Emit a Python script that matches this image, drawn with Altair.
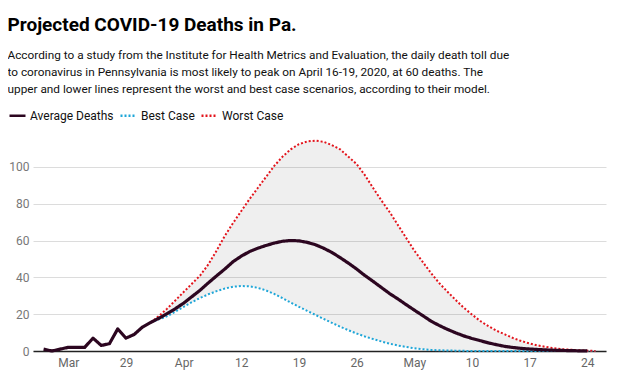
import altair as alt
import pandas as pd

# ---- data ----
avg_start = "2020-03-19"
avg_values = [1, 0, 1, 2, 2, 2, 7, 3, 4, 12, 7, 9, 13,
              15.5, 17.8, 20.3, 23, 26, 29.5, 33, 37, 40.8, 44.5,
              48.5, 51.5, 54, 55.8, 57.3, 58.6, 59.6, 60, 59.8, 59,
              57.7, 55.8, 53.5, 50.7, 47.7, 44.5, 41, 37.8, 34.5, 31.2,
              28.3, 25.2, 22.2, 19.3, 16.3, 13.9, 11.8, 9.9, 8.2, 6.8,
              5.6, 4.4, 3.4, 2.5, 1.9, 1.4, 1.1, 0.8, 0.6, 0.4,
              0.3, 0.2, 0.1, 0.1]

proj_start = "2020-04-01"
best_values = [15.5, 17.2, 18.9, 21.4, 24, 26.5, 28.8, 30.8, 32.5, 33.9,
               34.9, 35.3, 35.1, 34.3, 32.9, 31, 28.7, 26.3, 24, 21.8,
               19.6, 17.4, 15.3, 13.2, 11.3, 9.5, 7.9, 6.5, 5.2, 4,
               3, 2.2, 1.5, 1, 0.6, 0.4, 0.3, 0.2, 0.1,
               0, 0, 0, 0, 0, 0, 0, 0, 0, 0, 0, 0, 0, 0, 0, 0]
worst_values = [15.5, 19, 23, 27.5, 32, 36.5, 41, 47, 54.5, 62.5,
                69.5, 76, 82.5, 88.5, 94.5, 100.5, 105.5, 109.5, 112.3, 113.8,
                114.2, 113.6, 111.8, 109.5, 105.5, 101.5, 95.5, 88.5, 81.8, 75.5,
                68.5, 61.5, 54.5, 48.5, 42.5, 37, 32.3, 27.8, 23.5, 19.8,
                16.3, 13.5, 11, 9, 7, 5.4, 4.1, 3, 2.2, 1.5,
                1, 0.7, 0.4, 0.2, 0]

series_names = ["Average Deaths", "Best Case", "Worst Case"]
series_colors = ["#2c0620", "#1ea6d8", "#e3141c"]
series_dashes = [[1, 0], [2, 2], [2, 2]]

x_tick_dates = ["2020-03-22", "2020-03-29", "2020-04-05", "2020-04-12", "2020-04-19",
                "2020-04-26", "2020-05-03", "2020-05-10", "2020-05-17", "2020-05-24"]
x_domain = ["2020-03-17T17:10:00", "2020-05-26T06:30:00"]
y_ticks = [0, 20, 40, 60, 80, 100]

title_text = "Projected COVID-19 Deaths in Pa."
subtitle_lines = [
    "According to a study from the Institute for Health Metrics and Evaluation, the daily death toll due",
    "to coronavirus in Pennsylvania is most likely to peak on April 16-19, 2020, at 60 deaths. The",
    "upper and lower lines represent the worst and best case scenarios, according to their model.",
]


def ms(s):
    return int(pd.Timestamp(s, tz="UTC").timestamp() * 1000)


avg_dates = [d.strftime("%Y-%m-%d") for d in pd.date_range(avg_start, periods=len(avg_values), freq="D")]
proj_dates = [d.strftime("%Y-%m-%d") for d in pd.date_range(proj_start, periods=len(best_values), freq="D")]

df_avg = pd.DataFrame({"date": avg_dates, "value": avg_values, "series": series_names[0]})
df_proj = pd.concat([
    pd.DataFrame({"date": proj_dates, "value": best_values, "series": series_names[1]}),
    pd.DataFrame({"date": proj_dates, "value": worst_values, "series": series_names[2]}),
])
df_band = pd.DataFrame({"date": proj_dates, "lo": best_values, "hi": worst_values})

FONT = "Roboto"

x_enc = alt.X(
    "date:T",
    scale=alt.Scale(type="utc", domain=[ms(x_domain[0]), ms(x_domain[1])]),
    axis=alt.Axis(
        values=[ms(t) for t in x_tick_dates],
        labelExpr="(utcdate(datum.value) <= 7 || datum.index == 0) ? utcFormat(datum.value, '%b') : utcFormat(datum.value, '%-d')",
        title=None, grid=False, ticks=False, domainColor="#222", domainWidth=1.5,
        labelColor="#666", labelFontSize=12, labelFont=FONT, labelPadding=6,
    ),
)
y_scale = alt.Scale(domain=[0, 120], nice=False)
y_axis = alt.Axis(values=y_ticks, title=None, domain=False, ticks=False,
                  gridColor="#dcdcdc", gridWidth=1, labelColor="#777", labelFontSize=12,
                  labelFont=FONT, labelPadding=4)

color_enc = alt.Color("series:N", scale=alt.Scale(domain=series_names, range=series_colors), title=None)
dash_enc = alt.StrokeDash("series:N", scale=alt.Scale(domain=series_names, range=series_dashes), title=None)

band = alt.Chart(df_band).mark_area(color="#000000", opacity=0.062).encode(
    x=x_enc,
    y=alt.Y("lo:Q", scale=y_scale, axis=y_axis),
    y2="hi:Q",
)

proj = alt.Chart(df_proj).mark_line(strokeWidth=2, strokeCap="butt").encode(
    x=x_enc, y=alt.Y("value:Q", scale=y_scale, axis=y_axis),
    color=color_enc, strokeDash=dash_enc,
)

avg = alt.Chart(df_avg).mark_line(strokeWidth=3.2, strokeJoin="round").encode(
    x=x_enc, y=alt.Y("value:Q", scale=y_scale, axis=y_axis),
    color=color_enc, strokeDash=dash_enc,
)

chart = alt.layer(band, proj, avg).properties(
    width=573,
    height=221,
    padding={"left": 25, "top": 122, "right": 5, "bottom": 20},
    autosize=alt.AutoSizeParams(type="none"),
    title=alt.TitleParams(
        text=title_text,
        subtitle=subtitle_lines,
        anchor="start",
        frame="group",
        dx=-25.5,
        offset=10,
        font=FONT, fontSize=19, fontWeight="bold", color="#000000",
        subtitleFont=FONT, subtitleFontSize=11.8, subtitleColor="#111111",
        subtitleLineHeight=17, subtitlePadding=15,
    ),
).configure_view(stroke=None).configure_legend(
    orient="none", legendX=-25, legendY=-24, direction="horizontal",
    symbolType="stroke", symbolSize=256, symbolStrokeWidth=2.5,
    labelFont=FONT, labelFontSize=12, labelColor="#111111",
    columnPadding=1, labelOffset=3,
)

chart.save("out.html", embed_options={"renderer": "svg", "actions": False})
